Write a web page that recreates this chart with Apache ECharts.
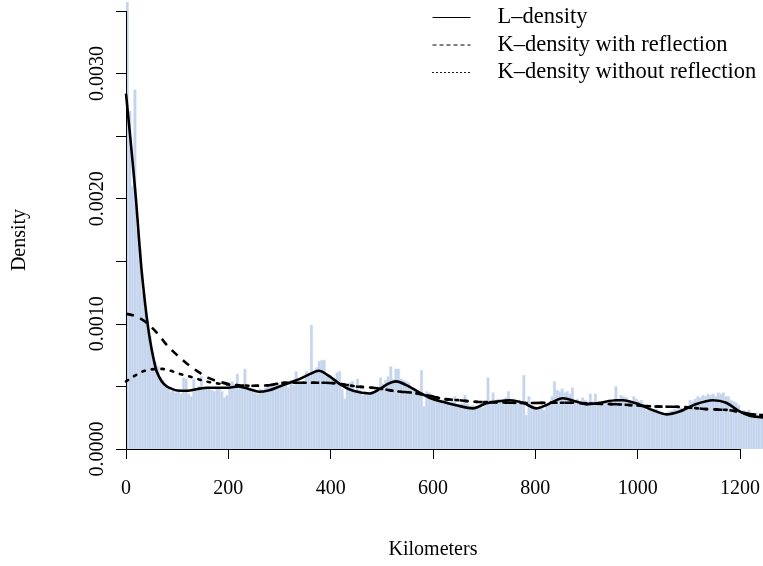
<!DOCTYPE html>
<html>
<head>
<meta charset="utf-8">
<script src="https://cdn.jsdelivr.net/npm/echarts@6/dist/echarts.min.js"></script>
<style>html,body{margin:0;padding:0;background:#fff}#c{width:763px;height:566px}</style>
</head>
<body>
<div id="c"></div>
<script>
// ---- data ----
var binWidth = 5; // km
var histDensity = [
0.0036,0.0027,0.0021,0.00287,0.00175,0.0016,0.00125,0.00112,0.00103,0.0009,
0.00077,0.00069,0.00066,0.00057,0.00055,0.0005,0.00048,0.00046,0.00047,0.00045,
0.00046,0.00044,0.00057,0.00056,0.00044,0.00042,0.00056,0.00047,0.0005,0.00058,
0.00048,0.0005,0.00049,0.00047,0.00046,0.00048,0.00049,0.00046,0.00041,0.00043,
0.00052,0.00054,0.00052,0.0006,0.0005,0.00049,0.00064,0.00049,0.00048,0.00046,
0.00045,0.00044,0.00048,0.00047,0.00049,0.00051,0.0005,0.00052,0.00051,0.00053,
0.00051,0.0005,0.00052,0.00049,0.00055,0.00051,0.00062,0.00052,0.00053,0.00054,
0.00062,0.0006,0.00099,0.00062,0.00065,0.0007,0.00071,0.00071,0.0006,0.00059,
0.00056,0.00052,0.00061,0.00062,0.00048,0.0004,0.00049,0.00053,0.00054,0.00046,
0.00056,0.00047,0.00043,0.00046,0.00045,0.00043,0.00046,0.00045,0.00049,0.00057,
0.00052,0.00055,0.00058,0.00066,0.00056,0.00064,0.00064,0.00056,0.00055,0.00054,
0.00053,0.00049,0.00048,0.00047,0.00045,0.00063,0.00034,0.00046,0.00045,0.0004,
0.00039,0.00041,0.00038,0.00039,0.0004,0.00041,0.00037,0.0004,0.00042,0.00036,
0.00035,0.00037,0.00043,0.00036,0.00034,0.00035,0.00033,0.00034,0.00035,0.00033,
0.00036,0.00057,0.00038,0.00045,0.00039,0.0004,0.00038,0.00039,0.00041,0.00046,
0.00039,0.0004,0.00038,0.00039,0.00037,0.00059,0.00027,0.00042,0.00035,0.00033,
0.00031,0.00032,0.00033,0.00031,0.00034,0.00036,0.00042,0.00054,0.00047,0.00046,
0.00048,0.00045,0.00046,0.00044,0.00049,0.00039,0.0004,0.00038,0.00041,0.00039,
0.00038,0.00044,0.00038,0.00044,0.00036,0.00035,0.00037,0.00038,0.00036,0.00038,
0.00037,0.0005,0.0004,0.00043,0.00042,0.00041,0.00039,0.00037,0.00042,0.0004,
0.00038,0.00039,0.00033,0.00031,0.00032,0.0003,0.00031,0.00032,0.0003,0.00029,
0.00028,0.00029,0.0003,0.00031,0.00032,0.00031,0.00033,0.00032,0.00031,0.00033,
0.00039,0.00038,0.0004,0.00042,0.00041,0.00043,0.00042,0.00044,0.00043,0.00044,
0.00042,0.00045,0.00044,0.00045,0.00042,0.00042,0.00039,0.00038,0.00037,0.00035,
0.00031,0.00031,0.0003,0.00031,0.00028,0.00028,0.00029,0.00027,0.00028,0.00028
];

var lKm = [0,5,10,15,20,25,30,35,40,45,50,55,60,70,80,90,100,120,140,160,180,200,220,240,260,280,300,320,340,360,377,398,421,444,476,496,512,528,548,574,593,619,645,678,704,724,750,776,802,821,854,880,900,926,958,971,997,1030,1056,1082,1115,1147,1173,1199,1219,1245];
var lDensity = [0.00284,0.00263,0.00242,0.0022,0.00197,0.0017,0.00145,0.00125,0.00107,0.00092,0.0008,0.0007,0.00062,0.00054,0.0005,0.00048,0.000467,0.000465,0.00048,0.00049,0.00049,0.00049,0.0005,0.00048,0.000457,0.00047,0.0005,0.00053,0.00056,0.0006,0.000625,0.00058,0.00051,0.000465,0.000444,0.00048,0.00052,0.00054,0.00051,0.00045,0.00041,0.000377,0.00035,0.000325,0.000365,0.00038,0.00039,0.00037,0.000325,0.00035,0.000405,0.00038,0.000357,0.00037,0.00039,0.00039,0.000365,0.00031,0.000277,0.0003,0.00036,0.00039,0.00037,0.0003,0.000266,0.000253];

var kRefKm = [0,20,40,60,80,100,120,140,160,180,200,220,250,280,310,350,390,420,450,480,500,530,560,580,600,620,650,680,710,750,790,830,860,900,935,960,990,1030,1060,1090,1130,1160,1180,1220,1245];
var kRefDensity = [0.00108,0.00106,0.00101,0.00093,0.00083,0.00075,0.00068,0.00062,0.00057,0.00054,0.00052,0.00051,0.000505,0.00051,0.00053,0.00053,0.00053,0.00052,0.0005,0.00049,0.00048,0.00046,0.00045,0.000435,0.00042,0.0004,0.00039,0.000378,0.000375,0.00037,0.000367,0.00037,0.00037,0.000365,0.00036,0.000357,0.00035,0.00034,0.000338,0.000335,0.00032,0.000315,0.00031,0.00028,0.00027];

var kNoRefKm = [0,15,33,50,70,87,105,124,143,160,177,200,220,250,280,310,350,390,420,450,480,500,530,560,580,600,620,650,680,710,750,790,830,860,900,935,960,990,1030,1060,1090,1130,1160,1180,1220,1245];
var kNoRefDensity = [0.00054,0.00058,0.00062,0.000636,0.00064,0.000625,0.0006,0.00058,0.000556,0.000537,0.000525,0.000515,0.00051,0.000505,0.00051,0.00053,0.00053,0.00053,0.00052,0.0005,0.00049,0.00048,0.00046,0.00045,0.000435,0.00042,0.0004,0.00039,0.000378,0.000375,0.00037,0.000367,0.00037,0.00037,0.000365,0.00036,0.000357,0.00035,0.00034,0.000338,0.000335,0.00032,0.000315,0.00031,0.00028,0.00027];

var xTicks = [0,200,400,600,800,1000,1200];
var yTicks = [0,0.0005,0.001,0.0015,0.002,0.0025,0.003,0.0035];
var yLabels = [0,0.001,0.002,0.003];
var seriesNames = ['L\u2013density','K\u2013density with reflection','K\u2013density without reflection'];

// ---- build ----
function pairs(a,b){return a.map(function(v,i){return [v,b[i]];});}
var histData = histDensity.map(function(d,i){return [i*binWidth,(i+1)*binWidth,d];});
var FONT = 'Liberation Serif';
var hidden = {opacity:0,color:'transparent',borderWidth:0};

var chart = echarts.init(document.getElementById('c'), null, {renderer:'canvas'});
chart.setOption({
  animation:false,
  backgroundColor:'#ffffff',
  color:['#000','#000','#000','#000'],
  textStyle:{fontFamily:FONT,color:'#000'},
  grid:{left:126,right:0,top:2,bottom:117,outerBoundsMode:'none'},
  legend:{
    orient:'vertical', left:432, top:6, padding:0, itemGap:4.5, itemWidth:38, itemHeight:14,
    textStyle:{fontFamily:FONT,fontSize:22.5,color:'#000',padding:[0,0,0,22]},
    itemStyle:hidden,
    data:[
      {name:seriesNames[0], itemStyle:hidden, lineStyle:{width:1,type:'solid',color:'#000'}},
      {name:seriesNames[1], itemStyle:hidden, lineStyle:{width:1,type:[4,3],color:'#000'}},
      {name:seriesNames[2], itemStyle:hidden, lineStyle:{width:1,type:[1,3],color:'#000'}}
    ]
  },
  xAxis:{
    type:'value', min:0, max:1245,
    name:'Kilometers', nameLocation:'middle', nameGap:91,
    nameTextStyle:{fontFamily:FONT,fontSize:20,color:'#000',padding:[0,23,0,0]},
    axisLine:{show:false},
    axisTick:{show:true,length:10,lineStyle:{color:'#000',width:1},customValues:xTicks},
    axisLabel:{fontFamily:FONT,fontSize:20,color:'#000',margin:30,customValues:xTicks,
      formatter:function(v){return String(v);}},
    splitLine:{show:false}
  },
  yAxis:{
    type:'value', min:0, max:0.003572,
    name:'Density', nameLocation:'middle', nameGap:96, nameRotate:90,
    nameTextStyle:{fontFamily:FONT,fontSize:20,color:'#000',padding:[0,29,0,0]},
    axisLine:{show:false},
    axisTick:{show:true,length:10,lineStyle:{color:'#000',width:1},customValues:yTicks},
    axisLabel:{fontFamily:FONT,fontSize:20,color:'#000',rotate:90,margin:18,customValues:yLabels,
      formatter:function(v){return v.toFixed(4);}},
    splitLine:{show:false}
  },
  series:[
    {
      type:'custom', name:'hist', data:histData, clip:true, z:1,
      encode:{x:[0,1],y:2},
      renderItem:function(params,api){
        var p0 = api.coord([api.value(0), api.value(2)]);
        var p1 = api.coord([api.value(1), 0]);
        return {type:'rect', shape:{x:p0[0],y:p0[1],width:p1[0]-p0[0],height:p1[1]-p0[1]},
          style:{fill:'#c4d4ec',stroke:'#d2dff2',lineWidth:0.4}};
      }
    },
    {
      type:'line', name:seriesNames[0], data:pairs(lKm,lDensity), showSymbol:false, symbol:'none',
      smooth:0.3, z:4, itemStyle:{color:'#000'}, lineStyle:{color:'#000',width:2.6,type:'solid'},
      markLine:{silent:true, symbol:['none','none'], label:{show:false}, animation:false,
        lineStyle:{color:'#000',width:1,type:'solid'},
        data:[
          [{coord:[xTicks[0],0]},{coord:[xTicks[xTicks.length-1],0]}],
          [{coord:[0,yTicks[0]]},{coord:[0,yTicks[yTicks.length-1]]}]
        ]}
    },
    {
      type:'line', name:seriesNames[1], data:pairs(kRefKm,kRefDensity), showSymbol:false, symbol:'none',
      smooth:0.3, z:3, itemStyle:{color:'#000'}, lineStyle:{color:'#000',width:2.6,type:[8,7]}
    },
    {
      type:'line', name:seriesNames[2], data:pairs(kNoRefKm,kNoRefDensity), showSymbol:false, symbol:'none',
      smooth:0.3, z:3, itemStyle:{color:'#000'}, lineStyle:{color:'#000',width:2.6,type:[2.6,7],cap:'round'}
    }
  ]
});
</script>
</body>
</html>
